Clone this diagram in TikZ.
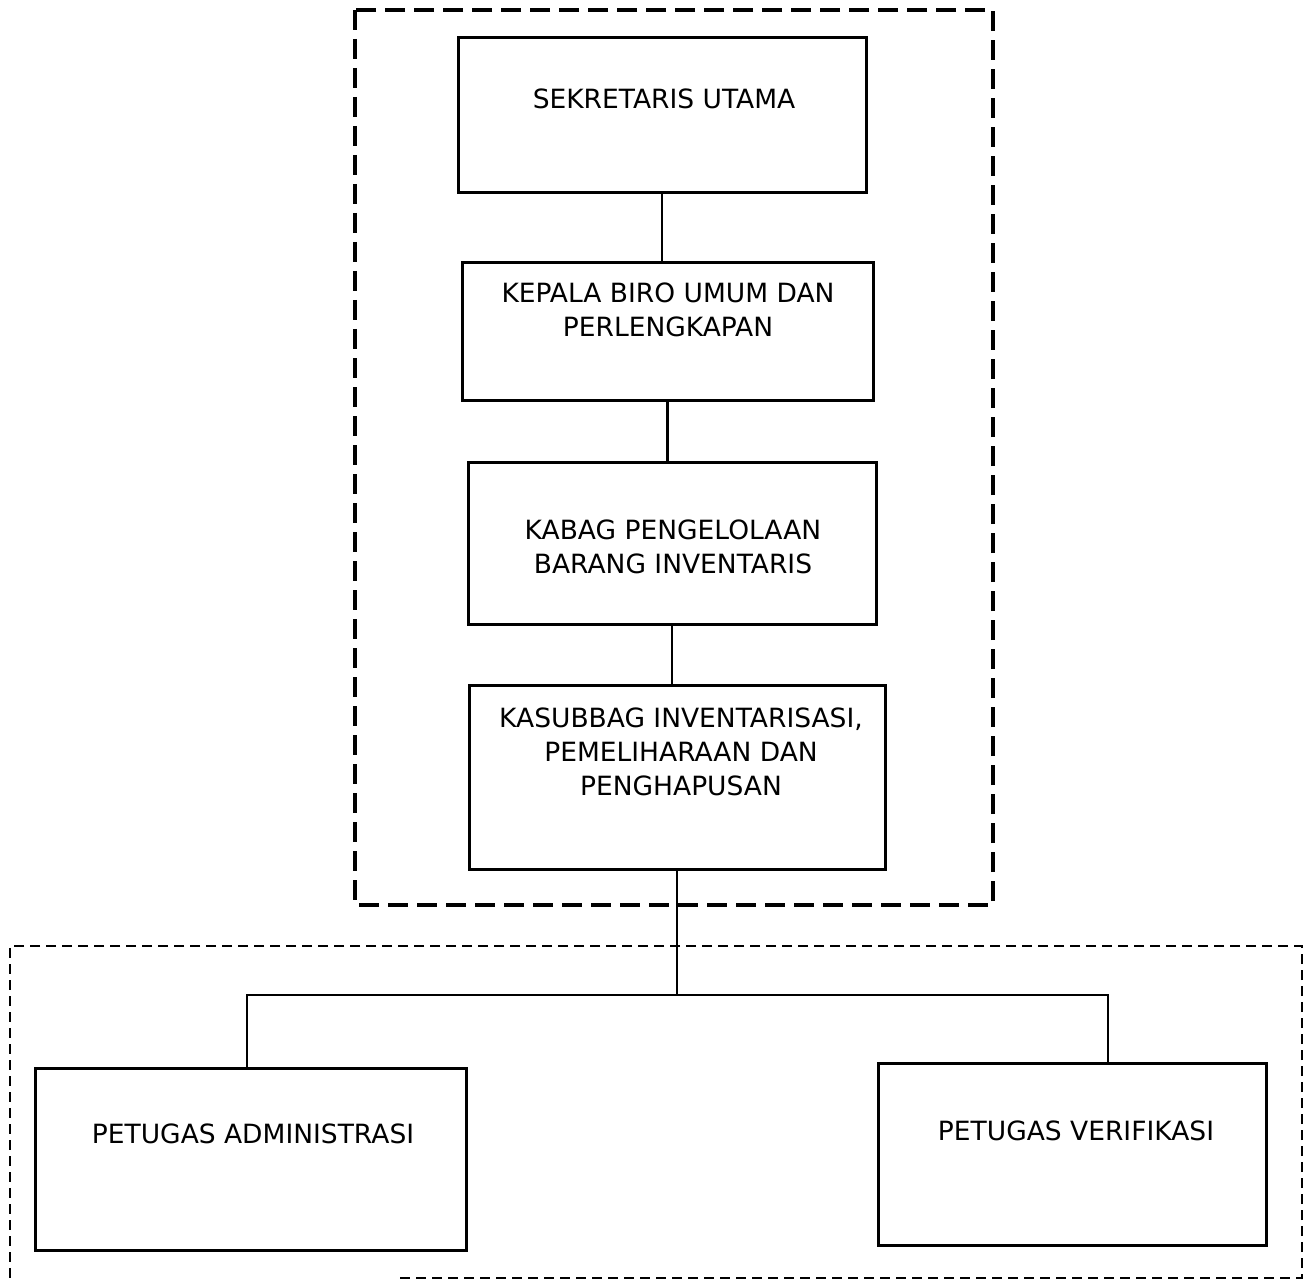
\documentclass[tikz,border=0pt]{standalone}
\usepackage{fontspec}
\setmainfont{DejaVu Sans}
\begin{document}
\begin{tikzpicture}[x=1pt,y=-1pt,
  box/.style={draw,line width=3pt,rectangle,inner sep=0pt},
  lbl/.style={anchor=north,align=center,inner sep=0pt,
    font=\fontsize{26.5}{34}\selectfont},
  conn/.style={line width=2.2pt},
  outerA/.style={line width=3.4pt,dash pattern=on 20pt off 9pt},
  outerB/.style={line width=2.2pt,dash pattern=on 10pt off 6pt}]
\useasboundingbox (0,0) rectangle (1304,1281);

% group frames
\draw[outerA] (355,10) rectangle (993,905);
\draw[outerB] (400,1278) -- (1302,1278) -- (1302,946) -- (10,946) -- (10,1281);

% boxes
\node[box,minimum width=408pt,minimum height=155pt] (b1) at (662,115.5) {};
\node[box,minimum width=411pt,minimum height=137pt] (b2) at (667.5,331.5) {};
\node[box,minimum width=408pt,minimum height=162pt] (b3) at (672,543) {};
\node[box,minimum width=416pt,minimum height=184pt] (b4) at (677,777) {};
\node[box,minimum width=431pt,minimum height=182pt] (b5) at (250.5,1159) {};
\node[box,minimum width=388pt,minimum height=182pt] (b6) at (1072,1154) {};

% labels
\node[lbl] (t1) at (664,89) {SEKRETARIS UTAMA};
\node[lbl] (t2) at (668,283) {KEPALA BIRO UMUM DAN\\PERLENGKAPAN};
\node[lbl] (t3) at (673,520) {KABAG PENGELOLAAN\\BARANG INVENTARIS};
\node[lbl] (t4) at (681,708) {KASUBBAG INVENTARISASI,\\PEMELIHARAAN DAN\\PENGHAPUSAN};
\node[lbl] (t5) at (253,1124) {PETUGAS ADMINISTRASI};
\node[lbl] (t6) at (1076,1121) {PETUGAS VERIFIKASI};

% connectors
\coordinate (hl) at (247,995);
\coordinate (hr) at (1108,995);
\draw[conn] (b1.south) -- (b1.south |- b2.north);
\draw[conn] (b2.south) -- (b2.south |- b3.north);
\draw[conn] (b3.south) -- (b3.south |- b4.north);
\draw[conn] (b4.south) -- (b4.south |- hl);
\draw[conn] (b5.north -| hl) -- (hl) -- (hr) -- (b6.north -| hr);
\end{tikzpicture}
\end{document}
